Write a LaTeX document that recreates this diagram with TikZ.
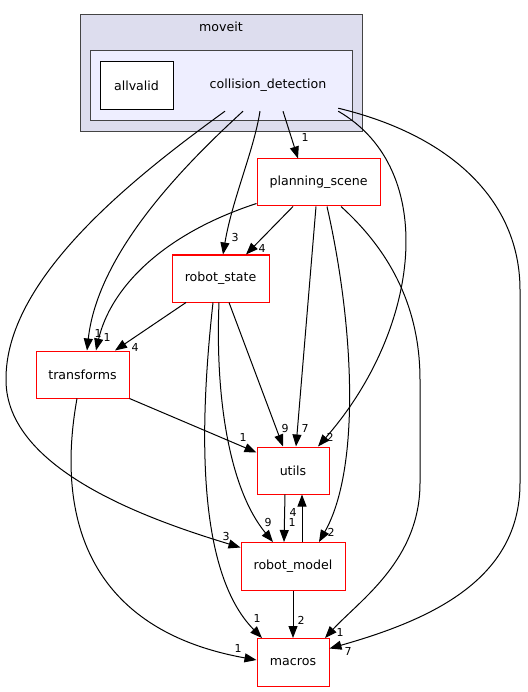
\documentclass[tikz,border=0pt]{standalone}
\usepackage{fontspec}
\setmainfont{DejaVu Sans}
\usetikzlibrary{arrows.meta}
\definecolor{clouter}{HTML}{DDDDEE}
\definecolor{clinner}{HTML}{EEEEFF}
\definecolor{clborder}{HTML}{444444}
\tikzset{
  dirbox/.style={draw=red, line width=1pt, fill=white, rectangle, inner sep=0pt, font=\fontsize{12.6}{15}\selectfont},
  plainbox/.style={draw=black, line width=1pt, fill=white, rectangle, inner sep=0pt, font=\fontsize{12.6}{15}\selectfont},
  edge/.style={draw=black, line width=1pt, -{Triangle[length=12pt,width=9pt]}},
  lbl/.style={inner sep=0pt, font=\fontsize{11}{13}\selectfont},
  clbl/.style={inner sep=0pt, font=\fontsize{12.6}{15}\selectfont}
}
\begin{document}
\begin{tikzpicture}[x=1pt,y=-1pt]
\useasboundingbox (0,0) rectangle (527,692);
% clusters
\draw[fill=clouter, draw=clborder, line width=1pt] (80,15) rectangle (362,132);
\node[clbl] (moveit) at (221,27) {moveit};
\draw[fill=clinner, draw=clborder, line width=1pt] (90,51) rectangle (352,121);
\node[plainbox, minimum width=73pt, minimum height=48pt] (av) at (136.5,86) {allvalid};
\node[clbl, minimum width=140pt, minimum height=52pt] (cd) at (268,85) {collision\_detection};
% nodes
\node[dirbox, minimum width=123pt, minimum height=47pt] (ps) at (318.5,182.5) {planning\_scene};
\node[dirbox, minimum width=97pt, minimum height=47pt] (rs) at (220.5,278.5) {robot\_state};
\node[dirbox, minimum width=93pt, minimum height=47pt] (tf) at (82.5,374.5) {transforms};
\node[dirbox, minimum width=72pt, minimum height=47pt] (ut) at (293,470.5) {utils};
\node[dirbox, minimum width=104pt, minimum height=48pt] (rm) at (293,566.5) {robot\_model};
\node[dirbox, minimum width=72pt, minimum height=48pt] (mc) at (293,662.5) {macros};
% edges from collision_detection
\draw[edge] ([xshift=15pt]cd.south) -- ([xshift=-20.5pt]ps.north);
\draw[edge] ([xshift=-8pt]cd.south) .. controls (254,150) and (232,200) .. ([xshift=2.5pt]rs.north);
\draw[edge] ([xshift=-25pt]cd.south) .. controls (190,160) and (98,250) .. ([xshift=4.5pt]tf.north);
\draw[edge] ([xshift=-43pt]cd.south) .. controls (130,180) and (5,280) .. (6,380) .. controls (6,470) and (150,520) .. ([yshift=-5.5pt]rm.north west);
\draw[edge] (cd.south east) .. controls (440,170) and (420,330) .. ([xshift=25pt]ut.north);
\draw[edge] ([yshift=3pt]cd.south east) .. controls (450,135) and (520,200) .. (520,290) -- (520,483) .. controls (520,580) and (430,620) .. ([yshift=-10.5pt]mc.north east);
% edges from planning_scene
\draw[edge] ([xshift=-25.5pt]ps.south) -- ([xshift=25.5pt]rs.north);
\draw[edge] ([yshift=3pt]ps.south west) .. controls (160,235) and (110,290) .. ([xshift=13.5pt]tf.north);
\draw[edge] ([xshift=-2.5pt]ps.south) -- ([xshift=3pt]ut.north);
\draw[edge] ([xshift=8.5pt]ps.south) .. controls (355,330) and (360,470) .. ([xshift=26pt]rm.north);
\draw[edge] ([xshift=22.5pt]ps.south) .. controls (400,260) and (420,320) .. (420,380) -- (420,483) .. controls (420,560) and (360,600) .. ([xshift=32pt]mc.north);
% edges from robot_state
\draw[edge] ([xshift=-34.5pt]rs.south) -- ([xshift=32.5pt]tf.north);
\draw[edge] ([xshift=8.5pt]rs.south) -- ([xshift=-10pt]ut.north);
\draw[edge] ([xshift=-1.5pt]rs.south) .. controls (215,400) and (230,490) .. ([xshift=-20pt]rm.north);
\draw[edge] ([xshift=-7.5pt]rs.south) .. controls (200,420) and (195,570) .. ([xshift=-31pt]mc.north);
% edges from transforms
\draw[edge] (tf.south east) -- ([yshift=-6pt]ut.north west);
\draw[edge] ([xshift=-5.5pt]tf.south) .. controls (55,520) and (90,630) .. ([yshift=2.5pt]mc.west);
% utils / robot_model
\draw[edge] ([xshift=-8pt]ut.south) -- ([xshift=-9pt]rm.north);
\draw[edge] ([xshift=9pt]rm.north) -- ([xshift=9pt]ut.south);
\draw[edge] (rm.south) -- (mc.north);
% labels
\node[lbl] (l1) at (305,137) {1};
\node[lbl] (l2) at (235,237) {3};
\node[lbl] (l3) at (98,333) {1};
\node[lbl] (l4) at (226,536) {3};
\node[lbl] (l5) at (330,437) {2};
\node[lbl] (l6) at (348,651) {7};
\node[lbl] (l7) at (262,248) {4};
\node[lbl] (l8) at (107,337) {1};
\node[lbl] (l9) at (305,428) {7};
\node[lbl] (l10) at (331,532) {2};
\node[lbl] (l11) at (340,632) {1};
\node[lbl] (l12) at (135,347) {4};
\node[lbl] (l13) at (285,428) {9};
\node[lbl] (l14) at (268,522) {9};
\node[lbl] (l15) at (257,618) {1};
\node[lbl] (l16) at (243,437) {1};
\node[lbl] (l17) at (238,648) {1};
\node[lbl] (l18) at (292,522) {1};
\node[lbl] (l19) at (293,512) {4};
\node[lbl] (l20) at (301,620) {2};
\end{tikzpicture}
\end{document}
